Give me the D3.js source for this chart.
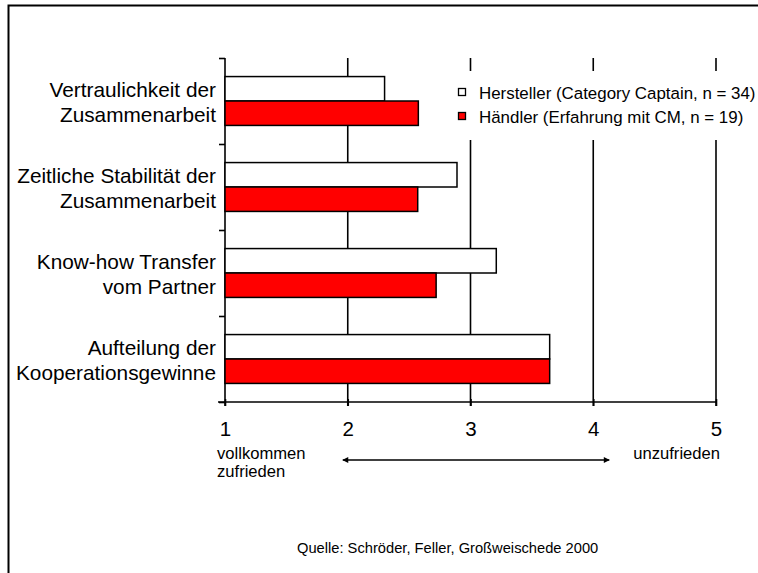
<!DOCTYPE html>
<html><head><meta charset="utf-8">
<script src="https://cdn.jsdelivr.net/npm/d3@7"></script>
<style>body{margin:0;background:#fff}svg{display:block}text{font-family:"Liberation Sans",Arial,sans-serif;fill:#000}</style>
</head><body>
<svg id="c" width="758" height="573"></svg>
<script>
const categories = ["Vertraulichkeit der|Zusammenarbeit", "Zeitliche Stabilität der|Zusammenarbeit", "Know-how Transfer|vom Partner", "Aufteilung der|Kooperationsgewinne"];
const seriesNames = ["Hersteller (Category Captain, n = 34)", "Händler (Erfahrung mit CM, n = 19)"];
const hersteller = [2.3, 2.89, 3.21, 3.645];
const haendler = [2.575, 2.57, 2.72, 3.645];
const xTicks = [1, 2, 3, 4, 5];
const scaleLeft = ["vollkommen", "zufrieden"];
const scaleRight = "unzufrieden";
const source = "Quelle: Schröder, Feller, Großweischede 2000";

const svg = d3.select("#c");
const colors = ["#ffffff", "#ff0000"];
const seriesVals = [hersteller, haendler];

// frame
svg.append("rect").attr("x", 8.5).attr("y", 5.5).attr("width", 900).attr("height", 700)
  .attr("fill", "none").attr("stroke", "#000").attr("stroke-width", 2);

const x = d3.scaleLinear().domain([1, 5]).range([225, 716]);
const y0 = d3.scaleBand().domain(categories).range([58, 402]);
const y1 = d3.scaleBand().domain(seriesNames).range([0, y0.bandwidth()]).paddingOuter(0.76);

// gridlines
svg.append("g").selectAll("line").data(xTicks.slice(1)).join("line")
  .attr("x1", d => x(d)).attr("x2", d => x(d)).attr("y1", 58).attr("y2", 406)
  .attr("stroke", "#000").attr("stroke-width", 1.6);

// y axis
const yAxis = d3.axisLeft(d3.scaleLinear().domain([0, categories.length]).range([402, 58]))
  .ticks(categories.length).tickSize(6).tickFormat("");
const ya = svg.append("g").attr("transform", `translate(${x(1)},0)`).call(yAxis);
ya.select(".domain").attr("stroke", "#000").attr("stroke-width", 1.6).attr("d", "M0,58V406");
ya.selectAll(".tick line").attr("stroke", "#000").attr("stroke-width", 1.6);

// x axis
const xAxis = d3.axisBottom(x).tickValues(xTicks).tickSize(4).tickPadding(14).tickFormat(d3.format("d"));
const xa = svg.append("g").attr("transform", "translate(0,402)").call(xAxis);
xa.attr("font-size", null).attr("font-family", null);
xa.select(".domain").attr("stroke", "#000").attr("stroke-width", 1.6).attr("d", `M${x(1) - 7},0H${x(5) + 1}`);
xa.selectAll(".tick line").attr("stroke", "#000").attr("stroke-width", 1.6).attr("y1", -3);
xa.selectAll(".tick text").attr("font-size", "20.5px").attr("dy", 0).attr("y", 34);

// category labels
const lab = svg.append("g").selectAll("text").data(categories).join("text")
  .attr("text-anchor", "end").attr("font-size", "20.8px");
lab.each(function (d) {
  const lines = d.split("|");
  const cy = y0(d) + y0.bandwidth() / 2;
  d3.select(this).selectAll("tspan").data(lines).join("tspan")
    .attr("x", 216).attr("y", (t, i) => cy - 3.8 + i * 25).text(t => t);
});

// legend background
svg.append("rect").attr("x", 450).attr("y", 71).attr("width", 320).attr("height", 69).attr("fill", "#fff");

// bars
seriesNames.forEach((s, si) => {
  svg.append("g").selectAll("rect").data(categories).join("rect")
    .attr("x", x(1)).attr("y", d => y0(d) + y1(s))
    .attr("width", (d, i) => x(seriesVals[si][i]) - x(1))
    .attr("height", y1.bandwidth())
    .attr("fill", colors[si]).attr("stroke", "#000").attr("stroke-width", 1.5);
});

// legend
const lg = svg.append("g").selectAll("g").data(seriesNames).join("g")
  .attr("transform", (d, i) => `translate(458,${88 + i * 24})`);
lg.append("rect").attr("x", 0.5).attr("y", 0.5).attr("width", 7).attr("height", 7)
  .attr("fill", (d, i) => colors[i]).attr("stroke", "#000").attr("stroke-width", 1.3);
lg.append("text").attr("x", 21).attr("y", 11).attr("font-size", "16.9px").text(d => d);

// scale annotations
svg.append("g").selectAll("text").data(scaleLeft).join("text").attr("font-size", "16.6px")
  .attr("x", 217).attr("y", (d, i) => 459 + i * 18).text(d => d);
svg.append("text").attr("font-size", "16.6px").attr("text-anchor", "end").attr("x", 720).attr("y", 459).text(scaleRight);

// double arrow
const defs = svg.append("defs");
defs.append("marker").attr("id", "ah").attr("viewBox", "0 0 10 10").attr("refX", 9).attr("refY", 5)
  .attr("markerWidth", 9).attr("markerHeight", 6).attr("markerUnits", "userSpaceOnUse").attr("orient", "auto-start-reverse")
  .append("path").attr("d", "M0,0L10,5L0,10Z").attr("fill", "#000");
svg.append("line").attr("x1", x(1.96)).attr("x2", x(4.13)).attr("y1", 460).attr("y2", 460)
  .attr("stroke", "#000").attr("stroke-width", 1.5)
  .attr("marker-start", "url(#ah)").attr("marker-end", "url(#ah)");

// source
svg.append("text").attr("x", 297).attr("y", 553).attr("font-size", "14.7px").text(source);
</script>
</body></html>
